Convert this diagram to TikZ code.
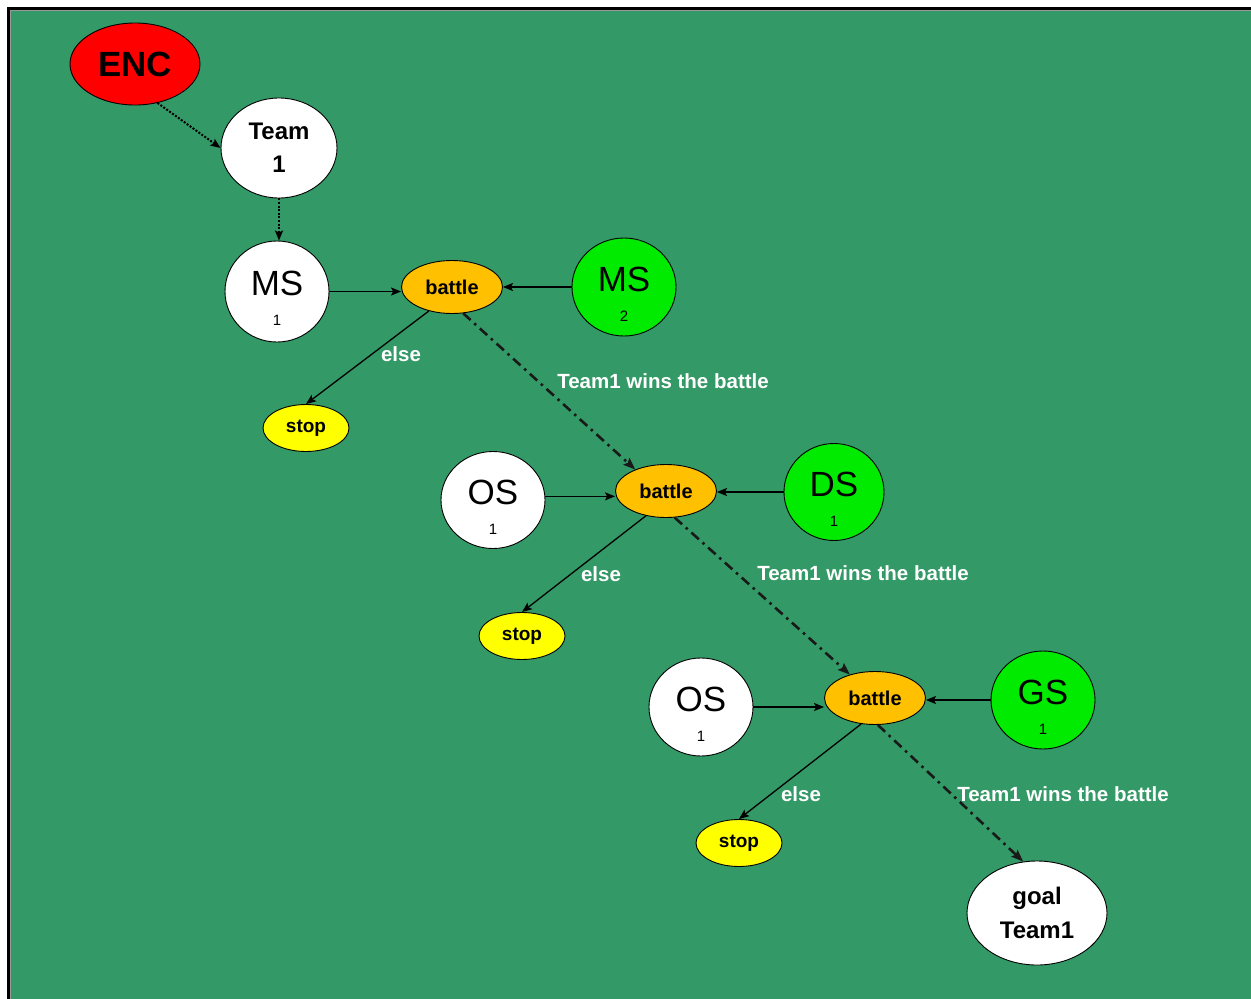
\documentclass[tikz,border=0pt]{standalone}
\usepackage{fontspec}
\setmainfont{Liberation Sans}
\usetikzlibrary{shapes.geometric,arrows.meta}
\definecolor{bg}{RGB}{51,153,102}
\definecolor{encred}{RGB}{255,0,0}
\definecolor{battleorange}{RGB}{255,192,0}
\definecolor{stopyellow}{RGB}{255,255,0}
\definecolor{teamgreen}{RGB}{0,235,0}
\newcommand\bigsub[2]{\makebox[0pt]{\raisebox{30pt}{\fontsize{35}{35}\selectfont #1}}\makebox[0pt]{\fontsize{15}{15}\selectfont #2}}
\begin{document}
\begin{tikzpicture}[x=1pt,y=-1pt,
  base/.style={ellipse, draw=black, line width=0.9pt, inner sep=0pt},
  stnode/.style={base, text height=68pt, text depth=0pt},
  battlenode/.style={base, fill=battleorange, minimum width=101pt, minimum height=53pt, font=\fontsize{20}{20}\selectfont\bfseries},
  stopnode/.style={base, fill=stopyellow, minimum width=86pt, minimum height=47pt, font=\fontsize{19}{19}\selectfont\bfseries},
  lbl/.style={text=white, inner sep=0pt, font=\fontsize{20.5}{20.5}\selectfont\bfseries},
  arr/.style={line width=1.3pt, -{Stealth[length=10pt,width=8pt,inset=2pt]}},
  dotline/.style={line width=2pt, dash pattern=on 2pt off 1.6pt, -{Stealth[length=10pt,width=8pt,inset=2pt]}},
  win/.style={line width=2.6pt, color=black!90, dash pattern=on 10pt off 5pt on 2.5pt off 5pt, -{Stealth[length=12pt,width=9pt,inset=2pt]}}
]
\useasboundingbox (0,0) rectangle (1251,999);
\fill[white] (0,0) rectangle (1251,999);
\fill[black] (7,7) rectangle (1251,10);
\fill[black] (7,7) rectangle (10,999);
\fill[black!40] (10,10) rectangle (1251,11);
\fill[black!40] (10,10) rectangle (11,999);
\fill[bg] (11,11) rectangle (1251,999);

\node[base, fill=encred, minimum width=130pt, minimum height=82pt, font=\fontsize{35}{35}\selectfont\bfseries] (ENC) at (135,64) {ENC};
\node[base, fill=white, minimum width=116pt, minimum height=100pt, align=center, font=\fontsize{24}{33}\selectfont\bfseries] (Team) at (279,148) {Team\\1};
\node[stnode, fill=white, minimum width=104pt, minimum height=101pt] (MS1) at (277,291.5) {\bigsub{MS}{1}};
\node[battlenode] (b1) at (452,287) {battle};
\node[stnode, fill=teamgreen, minimum width=104pt, minimum height=98pt] (MS2) at (624,287) {\bigsub{MS}{2}};
\node[stopnode] (stop1) at (306,428) {stop};

\node[stnode, fill=white, minimum width=104pt, minimum height=97pt] (OS1) at (493,500) {\bigsub{OS}{1}};
\node[battlenode] (b2) at (666,491) {battle};
\node[stnode, fill=teamgreen, minimum width=100pt, minimum height=97pt] (DS) at (834,492) {\bigsub{DS}{1}};
\node[stopnode] (stop2) at (522,636) {stop};

\node[stnode, fill=white, minimum width=104pt, minimum height=98pt] (OS2) at (701,707) {\bigsub{OS}{1}};
\node[battlenode] (b3) at (875,698) {battle};
\node[stnode, fill=teamgreen, minimum width=104pt, minimum height=98pt] (GS) at (1043,700) {\bigsub{GS}{1}};
\node[stopnode] (stop3) at (739,843) {stop};

\node[base, fill=white, minimum width=140pt, minimum height=104pt, align=center, font=\fontsize{24}{34}\selectfont\bfseries] (goal) at (1037,913) {goal\\Team1};

\node[lbl] (else1) at (401,354) {else};
\node[lbl] (win1) at (663,381) {Team1 wins the battle};
\node[lbl] (else2) at (601,574) {else};
\node[lbl] (win2) at (863,573) {Team1 wins the battle};
\node[lbl] (else3) at (801,794) {else};
\node[lbl] (win3) at (1063,794) {Team1 wins the battle};

\draw[dotline] (ENC.-60) -- (Team.west);
\draw[dotline] (Team.south) -- (Team.south |- MS1.north);

\draw[arr] (MS1.east) -- (MS1.east -| b1.west);
\draw[arr] (MS2.west) -- (MS2.west -| b1.east);
\draw[arr] (b1.-134) -- (stop1.north);
\draw[win] (b1.-67) -- (b2.145);

\draw[arr] (OS1.4) -- (OS1.4 -| b2.west);
\draw[arr] (DS.west) -- (DS.west -| b2.east);
\draw[arr] (b2.-129) -- (stop2.north);
\draw[win] (b2.-72) -- (b3.137);

\draw[arr] (OS2.east) -- (OS2.east -| b3.west);
\draw[arr] (GS.west) -- (GS.west -| b3.east);
\draw[arr] (b3.-118) -- (stop3.north);
\draw[win] (b3.-84) -- (goal.105);
\end{tikzpicture}
\end{document}
